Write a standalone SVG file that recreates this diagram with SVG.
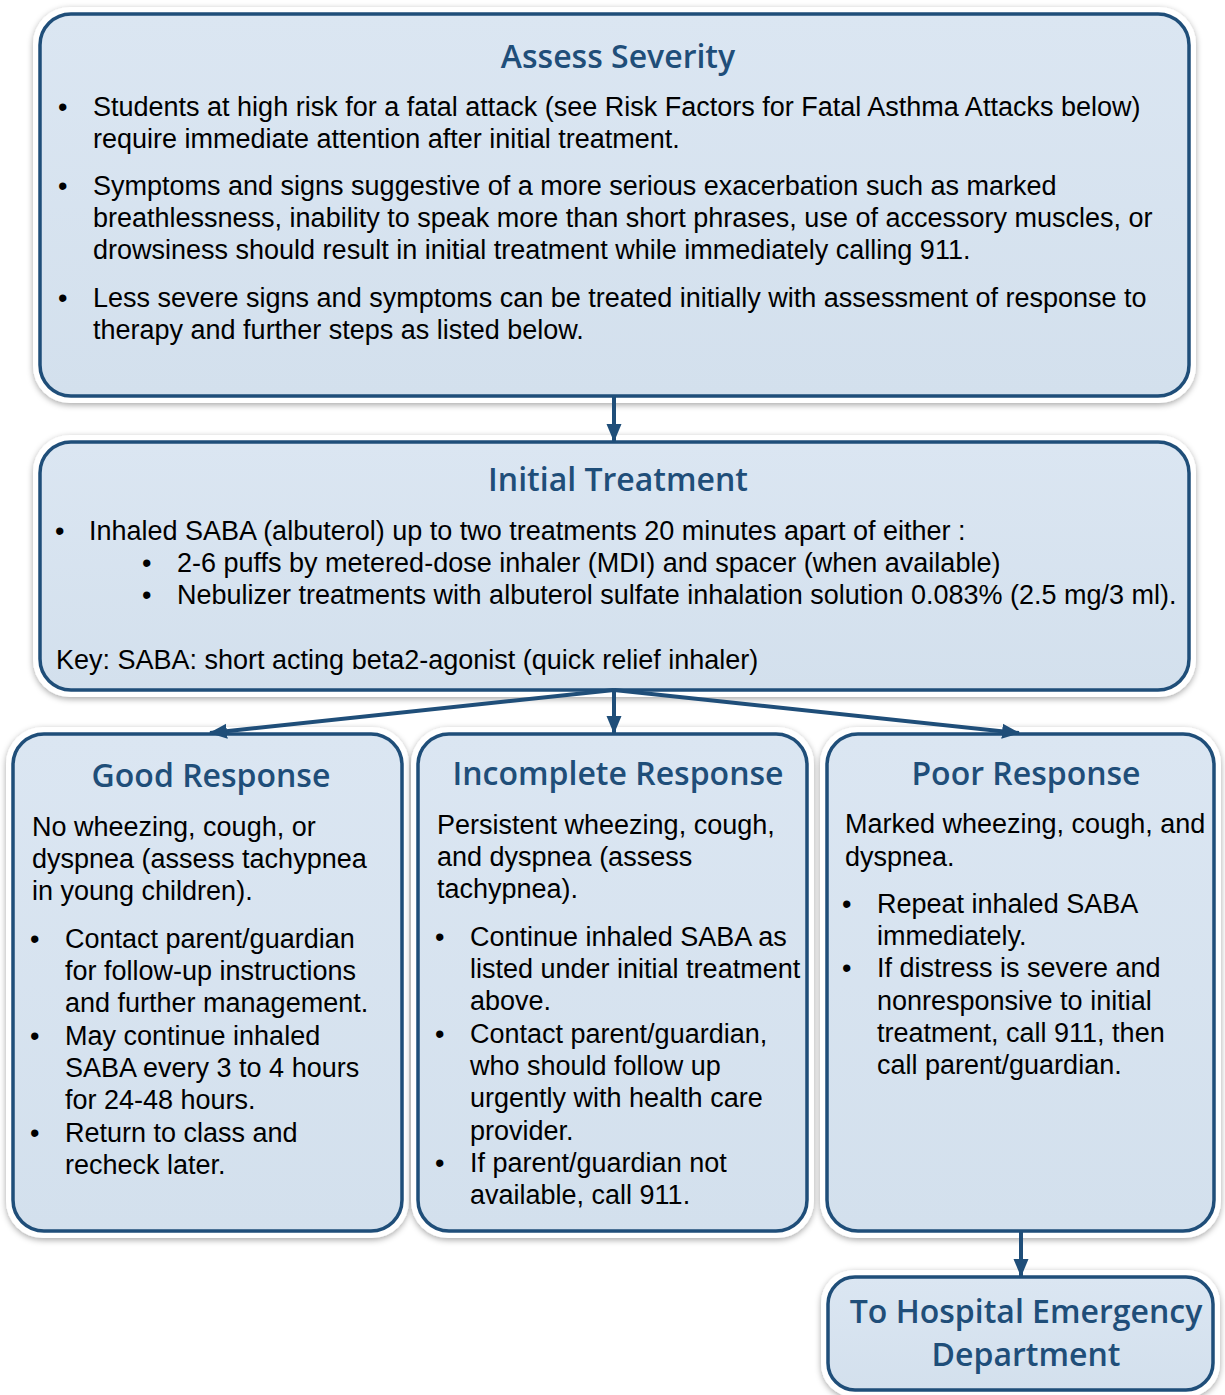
<svg xmlns="http://www.w3.org/2000/svg" width="1225" height="1395" viewBox="0 0 1225 1395">
<defs>
<filter id="sh" x="-10%" y="-10%" width="120%" height="120%">
<feDropShadow dx="0" dy="2" stdDeviation="3" flood-color="#000" flood-opacity="0.35"/>
</filter>
<linearGradient id="fillg" x1="0" y1="0" x2="0" y2="1">
<stop offset="0" stop-color="#dbe6f2"/>
<stop offset="1" stop-color="#d3e0ed"/>
</linearGradient>
<marker id="ah" markerUnits="userSpaceOnUse" markerWidth="18" markerHeight="18" viewBox="0 0 18 18" refX="17" refY="9" orient="auto">
<path d="M0,1.5 L18,9 L0,16.5 Z" fill="#1f4e79"/>
</marker>
<style>
.frame{fill:#ffffff;filter:url(#sh)}
.box{fill:url(#fillg);stroke:#1f4e79;stroke-width:3.5}
.title{font-family:"Open Sans","Noto Sans",sans-serif;font-weight:600;font-size:32px;fill:#1f4e79;text-anchor:middle}
.t{font-family:"Liberation Sans",Arial,sans-serif;font-size:27px;fill:#000}
.conn{stroke:#1f4e79;stroke-width:4;fill:none;marker-end:url(#ah)}
</style>
</defs>
<rect width="1225" height="1395" fill="#ffffff"/>

<g id="assess-severity">
<rect class="frame" x="33" y="7" width="1163" height="396" rx="37"/>
<rect class="box" x="40" y="14" width="1149" height="382" rx="31"/>
<text class="title" x="618" y="68">Assess Severity</text>
<text class="t" x="58" y="116">•</text>
<text class="t" x="93" y="116">Students at high risk for a fatal attack (see Risk Factors for Fatal Asthma Attacks below)</text>
<text class="t" x="93" y="148">require immediate attention after initial treatment.</text>
<text class="t" x="58" y="195">•</text>
<text class="t" x="93" y="195">Symptoms and signs suggestive of a more serious exacerbation such as marked</text>
<text class="t" x="93" y="227">breathlessness, inability to speak more than short phrases, use of accessory muscles, or</text>
<text class="t" x="93" y="259">drowsiness should result in initial treatment while immediately calling 911.</text>
<text class="t" x="58" y="307">•</text>
<text class="t" x="93" y="307">Less severe signs and symptoms can be treated initially with assessment of response to</text>
<text class="t" x="93" y="339">therapy and further steps as listed below.</text>
</g>

<g id="initial-treatment">
<rect class="frame" x="33" y="435" width="1163" height="262" rx="37"/>
<rect class="box" x="40" y="442" width="1149" height="248" rx="31"/>
<text class="title" x="618" y="491">Initial Treatment</text>
<text class="t" x="55" y="540">•</text>
<text class="t" x="89" y="540">Inhaled SABA (albuterol) up to two treatments 20 minutes apart of either :</text>
<text class="t" x="142" y="572">•</text>
<text class="t" x="177" y="572">2-6 puffs by metered-dose inhaler (MDI) and spacer (when available)</text>
<text class="t" x="142" y="604">•</text>
<text class="t" x="177" y="604">Nebulizer treatments with albuterol sulfate inhalation solution 0.083% (2.5 mg/3 ml).</text>
<text class="t" x="56" y="669">Key: SABA: short acting beta2-agonist (quick relief inhaler)</text>
</g>

<g id="good-response">
<rect class="frame" x="6" y="727" width="403" height="511" rx="37"/>
<rect class="box" x="13" y="734" width="389" height="497" rx="31"/>
<text class="title" x="211" y="787">Good Response</text>
<text class="t" x="32" y="836">No wheezing, cough, or</text>
<text class="t" x="32" y="868">dyspnea (assess tachypnea</text>
<text class="t" x="32" y="900">in young children).</text>
<text class="t" x="30" y="948">•</text>
<text class="t" x="65" y="948">Contact parent/guardian</text>
<text class="t" x="65" y="980">for follow-up instructions</text>
<text class="t" x="65" y="1012">and further management.</text>
<text class="t" x="30" y="1045">•</text>
<text class="t" x="65" y="1045">May continue inhaled</text>
<text class="t" x="65" y="1077">SABA every 3 to 4 hours</text>
<text class="t" x="65" y="1109">for 24-48 hours.</text>
<text class="t" x="30" y="1142">•</text>
<text class="t" x="65" y="1142">Return to class and</text>
<text class="t" x="65" y="1174">recheck later.</text>
</g>

<g id="incomplete-response">
<rect class="frame" x="411" y="727" width="403" height="511" rx="37"/>
<rect class="box" x="418" y="734" width="389" height="497" rx="31"/>
<text class="title" x="618" y="785">Incomplete Response</text>
<text class="t" x="437" y="834">Persistent wheezing, cough,</text>
<text class="t" x="437" y="866">and dyspnea (assess</text>
<text class="t" x="437" y="898">tachypnea).</text>
<text class="t" x="435" y="946">•</text>
<text class="t" x="470" y="946">Continue inhaled SABA as</text>
<text class="t" x="470" y="978">listed under initial treatment</text>
<text class="t" x="470" y="1010">above.</text>
<text class="t" x="435" y="1043">•</text>
<text class="t" x="470" y="1043">Contact parent/guardian,</text>
<text class="t" x="470" y="1075">who should follow up</text>
<text class="t" x="470" y="1107">urgently with health care</text>
<text class="t" x="470" y="1140">provider.</text>
<text class="t" x="435" y="1172">•</text>
<text class="t" x="470" y="1172">If parent/guardian not</text>
<text class="t" x="470" y="1204">available, call 911.</text>
</g>

<g id="poor-response">
<rect class="frame" x="820" y="727" width="401" height="511" rx="37"/>
<rect class="box" x="827" y="734" width="387" height="497" rx="31"/>
<text class="title" x="1026" y="785">Poor Response</text>
<text class="t" x="845" y="833">Marked wheezing, cough, and</text>
<text class="t" x="845" y="866">dyspnea.</text>
<text class="t" x="842" y="913">•</text>
<text class="t" x="877" y="913">Repeat inhaled SABA</text>
<text class="t" x="877" y="945">immediately.</text>
<text class="t" x="842" y="977">•</text>
<text class="t" x="877" y="977">If distress is severe and</text>
<text class="t" x="877" y="1010">nonresponsive to initial</text>
<text class="t" x="877" y="1042">treatment, call 911, then</text>
<text class="t" x="877" y="1074">call parent/guardian.</text>
</g>

<g id="hospital-ed">
<rect class="frame" x="821" y="1270" width="399" height="127" rx="33"/>
<rect class="box" x="828" y="1277" width="385" height="113" rx="27"/>
<text class="title" x="1026" y="1323">To Hospital Emergency</text>
<text class="title" x="1026" y="1366">Department</text>
</g>

<g id="connectors">
<line class="conn" x1="614" y1="397" x2="614" y2="441"/>
<line class="conn" x1="614" y1="690" x2="614" y2="733"/>
<line class="conn" x1="614" y1="690" x2="210" y2="733"/>
<line class="conn" x1="614" y1="690" x2="1019" y2="733"/>
<line class="conn" x1="1021" y1="1232" x2="1021" y2="1276"/>
</g>
</svg>
